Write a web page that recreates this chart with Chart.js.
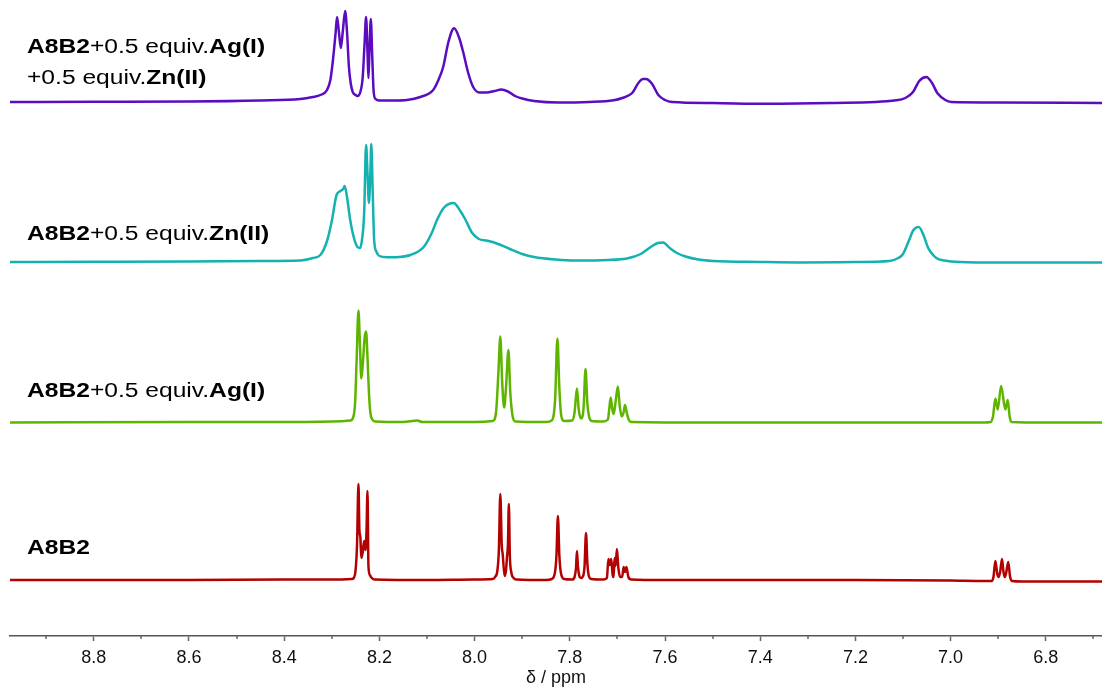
<!DOCTYPE html>
<html>
<head>
<meta charset="utf-8">
<title>1H NMR stack</title>
<script src="https://cdn.jsdelivr.net/npm/chart.js@4.4.1/dist/chart.umd.min.js"></script>
<style>
    html, body { margin: 0; padding: 0; background: #fff; }
    #nmrChart { display: block; }
</style>
</head>
<body>
<canvas id="nmrChart" width="1102" height="687"></canvas>
<script>
// ========== Spectra (ppm / intensity above own baseline) ==========
const redPpm = [8.976, 8.600, 8.400, 8.300, 8.258, 8.254, 8.250, 8.247, 8.244, 8.242, 8.240, 8.238, 8.235, 8.232, 8.229, 8.227, 8.225, 8.223, 8.220, 8.216, 8.210, 8.100, 8.000,
    7.962, 7.957, 7.952, 7.949, 7.946, 7.943, 7.941, 7.937, 7.934, 7.932, 7.930, 7.928, 7.926, 7.923, 7.918, 7.912, 7.850,
    7.838, 7.831, 7.828, 7.825, 7.822, 7.819, 7.812, 7.795, 7.790, 7.787, 7.785, 7.783, 7.780, 7.777, 7.772, 7.769, 7.766, 7.763, 7.760, 7.755, 7.730,
    7.722, 7.719, 7.716, 7.713, 7.710, 7.708, 7.706, 7.704, 7.701, 7.698, 7.694, 7.690, 7.687, 7.684, 7.681, 7.677, 7.671,
    7.600, 7.400, 7.200, 7.000, 6.930, 6.914, 6.910, 6.906, 6.902, 6.899, 6.896, 6.892, 6.889, 6.886, 6.883, 6.879, 6.875, 6.871, 6.850, 6.682];
const redInt = [0, 0, 0.5, 0.5, 1, 2, 10, 35, 96, 50, 43, 22, 28, 39, 30, 50, 89, 14, 5, 2, 0.5, 0, 0.5,
    1, 3, 10, 30, 86, 35, 26, 4, 10, 23, 35, 76, 25, 8, 2, 0.5, 0,
    1, 8, 25, 64, 25, 8, 1, 0.5, 3, 12, 29, 14, 4, 2, 4, 14, 47, 16, 4, 1, 0.5,
    2, 21, 15, 21, 5, 3, 22, 14, 31, 12, 3, 3, 13, 8, 13, 3, 0.5,
    0, 0, 0, -0.5, -1, -1, 3, 19, 6, 3, 8, 21, 8, 3, 8, 18, 3, -1, -1.5, -1.5];

const greenPpm = [8.976, 8.600, 8.400, 8.300, 8.261, 8.256, 8.251, 8.248, 8.244, 8.241, 8.238, 8.235, 8.231, 8.228, 8.225, 8.222, 8.219, 8.215, 8.208, 8.150, 8.120, 8.110, 8.000,
    7.962, 7.955, 7.950, 7.946, 7.942, 7.938, 7.934, 7.929, 7.925, 7.920, 7.914, 7.850,
    7.838, 7.831, 7.826, 7.822, 7.818, 7.812, 7.795, 7.790, 7.785, 7.781, 7.776, 7.771, 7.767, 7.763, 7.759, 7.754, 7.730,
    7.720, 7.717, 7.714, 7.711, 7.708, 7.704, 7.699, 7.695, 7.691, 7.687, 7.684, 7.680, 7.676, 7.670,
    7.500, 7.200, 7.000, 6.930, 6.916, 6.911, 6.906, 6.901, 6.894, 6.885, 6.880, 6.876, 6.872, 6.800, 6.682];
const greenInt = [0, 0.5, 0.5, 1, 2, 4, 20, 60, 112, 80, 44, 58, 85, 91, 65, 30, 10, 3, 1, 0.5, 2, 0.5, 0.5,
    1.5, 10, 50, 86, 40, 15, 35, 72.5, 30, 6, 1, 0.5,
    2, 22, 84, 35, 7, 1.5, 2, 10, 34, 12, 4, 15, 53.5, 18, 5, 1.5, 1,
    3, 14, 25, 14, 8.5, 20, 36, 16, 6, 10, 17.5, 9, 2.5, 0.5,
    0, 0, 0, 0, 0.5, 6, 24, 13, 36.5, 13, 22.5, 6, 0.5, 0, 0];

const cyanPpm = [8.976, 8.800, 8.600, 8.450, 8.366, 8.340, 8.324, 8.310, 8.300, 8.290, 8.282, 8.276, 8.273, 8.268, 8.262, 8.254, 8.246, 8.241, 8.236, 8.232,
    8.228, 8.225, 8.222, 8.219, 8.217, 8.214, 8.211, 8.206, 8.200, 8.184, 8.160, 8.135, 8.107, 8.090, 8.079, 8.065, 8.044, 8.030, 8.020, 8.005,
    7.991, 7.975, 7.962, 7.945, 7.926, 7.900, 7.875, 7.830, 7.789, 7.720, 7.680, 7.651, 7.630, 7.615, 7.604, 7.590, 7.575, 7.557, 7.530, 7.499,
    7.400, 7.318, 7.200, 7.129, 7.110, 7.100, 7.088, 7.078, 7.067, 7.057, 7.048, 7.042, 7.030, 7.013, 6.980, 6.900, 6.800, 6.682];
const cyanInt = [1, 1.2, 1.5, 2, 2.5, 5, 8, 22, 42, 68, 72, 74, 77, 66, 45, 26, 16, 15, 25, 50,
    118, 90, 60, 90, 119, 70, 23, 11, 7, 5.7, 6, 8, 16, 30, 43, 55, 60, 52, 44, 30,
    24, 22.5, 21, 18, 14, 9, 6, 3.5, 2.5, 3, 4.5, 9, 16, 20, 20.5, 15, 10, 6.5, 3.5, 2,
    1, 0.5, 1, 2, 5, 9, 22, 33, 36, 28, 16, 11, 5, 2.5, 1, 0.5, 0.5, 0.5];

const purplePpm = [8.976, 8.800, 8.600, 8.450, 8.366, 8.340, 8.324, 8.310, 8.303, 8.298, 8.292, 8.289, 8.285, 8.281, 8.277, 8.272, 8.268, 8.264, 8.260, 8.256,
    8.250, 8.246, 8.240, 8.235, 8.231, 8.228, 8.225, 8.223, 8.221, 8.218, 8.215, 8.212, 8.208, 8.200, 8.170, 8.142, 8.114, 8.087, 8.076, 8.066,
    8.055, 8.043, 8.033, 8.024, 8.014, 8.003, 7.990, 7.975, 7.958, 7.944, 7.930, 7.915, 7.900, 7.875, 7.824, 7.760, 7.708, 7.690, 7.669, 7.656,
    7.646, 7.640, 7.627, 7.614, 7.600, 7.585, 7.500, 7.390, 7.250, 7.114, 7.095, 7.079, 7.066, 7.051, 7.039, 7.028, 7.011, 6.999, 6.900, 6.682];
const purpleInt = [0, 0.3, 0.5, 1.5, 3, 5, 7, 12, 22, 40, 69, 85, 70, 54, 70, 91, 70, 35, 18, 10,
    7, 6, 10, 25, 60, 85, 50, 24, 50, 83, 45, 10, 3, 1.5, 1.5, 2, 5, 12, 22, 35,
    60, 73.7, 65, 50, 30, 15, 9.5, 9.5, 11, 12.5, 10.5, 6, 3.5, 1, -0.5, 0, 1.7, 4, 9, 19,
    23, 23, 18, 7, 2, 0, -1, -1.8, -1, 1.7, 4, 10, 21, 25, 19, 9, 2, 0, -0.5, -1];

// Stack order bottom -> top
const traceColors = ['#b30000', '#5db500', '#13b2b0', '#5b0cbf'];
const traceOffsets = [56, 213.5, 373, 534];

// Trace labels: [text, bold]
const traceLabels = [
    { x: 27, y: 554, segs: [['A8B2', true]] },
    { x: 27, y: 397, segs: [['A8B2', true], ['+0.5 equiv.', false], ['Ag(I)', true]] },
    { x: 27, y: 240, segs: [['A8B2', true], ['+0.5 equiv.', false], ['Zn(II)', true]] },
    { x: 27, y: 53, segs: [['A8B2', true], ['+0.5 equiv.', false], ['Ag(I)', true]] },
    { x: 27, y: 84, segs: [['+0.5 equiv.', false], ['Zn(II)', true]] }
];

const FONT = "'Liberation Sans', Arial, sans-serif";

// ========== Build datasets ==========
function toPoints(ppm, intens, off) {
    return ppm.map((p, i) => ({ x: p, y: off + intens[i] }));
}

const spectra = [
    [redPpm, redInt],
    [greenPpm, greenInt],
    [cyanPpm, cyanInt],
    [purplePpm, purpleInt]
];

const datasets = spectra.map(([ppm, intens], i) => ({
    data: toPoints(ppm, intens, traceOffsets[i]),
    borderColor: traceColors[i],
    borderWidth: 2.5,
    pointRadius: 0,
    fill: false,
    cubicInterpolationMode: 'monotone'
}));

// ========== Plugins ==========
const minorTicks = {
    id: 'minorTicks',
    afterDraw(chart) {
        const sc = chart.scales.x;
        const c = chart.ctx;
        c.save();
        c.strokeStyle = '#666';
        c.lineWidth = 1.5;
        for (let k = 67; k <= 89; k += 2) {
            const px = Math.round(sc.getPixelForValue(k / 10));
            c.beginPath();
            c.moveTo(px, sc.top);
            c.lineTo(px, sc.top + 3);
            c.stroke();
        }
        c.restore();
    }
};

const labelPlugin = {
    id: 'traceLabels',
    afterDraw(chart) {
        const c = chart.ctx;
        c.save();
        c.fillStyle = '#000';
        c.textBaseline = 'alphabetic';
        traceLabels.forEach(lbl => {
            c.save();
            c.translate(lbl.x, lbl.y);
            c.scale(1.23, 1);
            let cx = 0;
            lbl.segs.forEach(([t, b]) => {
                c.font = (b ? 'bold ' : '') + '20px ' + FONT;
                c.fillText(t, cx, 0);
                cx += c.measureText(t).width;
            });
            c.restore();
        });
        c.restore();
    }
};

// ========== Chart ==========
new Chart(document.getElementById('nmrChart'), {
    type: 'line',
    data: { datasets },
    options: {
        responsive: false,
        animation: false,
        devicePixelRatio: 1,
        layout: { padding: { left: 10, right: 0, top: 0, bottom: 0 } },
        plugins: {
            legend: { display: false },
            tooltip: { enabled: false }
        },
        scales: {
            x: {
                type: 'linear',
                reverse: true,
                min: 6.682,
                max: 8.976,
                afterFit: scale => { scale.height = 51; },
                grid: { drawOnChartArea: false, drawTicks: true, tickLength: 5, tickColor: '#666', tickWidth: 1.5 },
                border: { display: true, color: '#555', width: 1.5 },
                ticks: {
                    stepSize: 0.2,
                    includeBounds: false,
                    autoSkip: false,
                    maxRotation: 0,
                    padding: 8,
                    color: '#111',
                    font: { family: FONT, size: 18, lineHeight: 1 },
                    callback: v => v.toFixed(1)
                },
                title: {
                    display: true,
                    text: 'δ / ppm',
                    color: '#111',
                    font: { family: FONT, size: 18, lineHeight: 1 },
                    padding: { top: 2, bottom: 0 }
                }
            },
            y: { display: false, min: 0, max: 636 }
        }
    },
    plugins: [minorTicks, labelPlugin]
});
</script>
</body>
</html>
